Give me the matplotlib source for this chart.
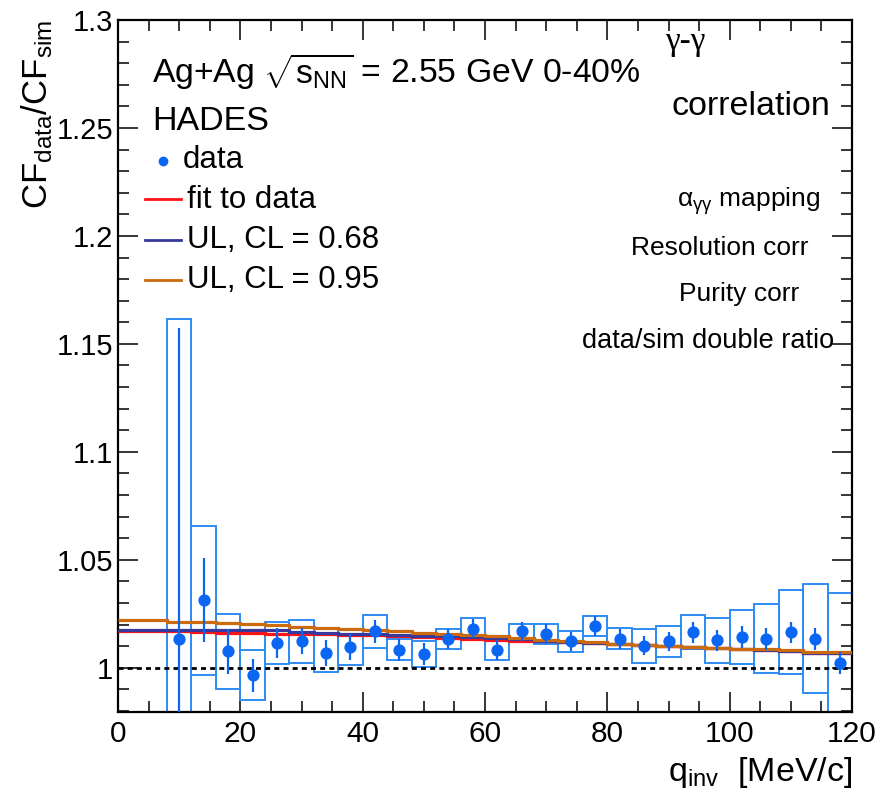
import matplotlib
matplotlib.use("Agg")
import matplotlib.pyplot as plt
import numpy as np
from matplotlib.lines import Line2D
from matplotlib.ticker import MultipleLocator, FuncFormatter

plt.rcParams['font.family'] = ['Liberation Sans', 'DejaVu Sans']
plt.rcParams['mathtext.fontset'] = 'custom'
plt.rcParams['mathtext.rm'] = 'Liberation Sans'
plt.rcParams['mathtext.it'] = 'Liberation Sans:italic'
plt.rcParams['mathtext.sf'] = 'Liberation Sans'

# ---------------- data ----------------
q_inv = [10, 14, 18, 22, 26, 30, 34, 38, 42, 46, 50, 54, 58, 62, 66, 70, 74, 78,
         82, 86, 90, 94, 98, 102, 106, 110, 114, 118]
cf_ratio = [1.0134, 1.0312, 1.0076, 0.9965, 1.0114, 1.0122, 1.0068, 1.0094, 1.0168,
            1.0083, 1.0063, 1.0134, 1.0181, 1.0083, 1.0168, 1.0157, 1.0122, 1.0194,
            1.0134, 1.0102, 1.0122, 1.0164, 1.0127, 1.0142, 1.0134, 1.0164, 1.0134,
            1.0022]
stat_err = [0.144, 0.0194, 0.0103, 0.0077, 0.0068, 0.006, 0.006, 0.006, 0.0054,
            0.005, 0.005, 0.0045, 0.0045, 0.0045, 0.0045, 0.0045, 0.0045, 0.0045,
            0.0045, 0.0045, 0.0045, 0.005, 0.005, 0.005, 0.005, 0.005, 0.005, 0.005]
sys_err = [0.148, 0.0346, 0.0175, 0.0115, 0.0096, 0.0098, 0.0089, 0.0083, 0.0075,
           0.0049, 0.006, 0.0046, 0.0048, 0.0047, 0.0035, 0.0047, 0.0047, 0.0047,
           0.0048, 0.0079, 0.0071, 0.0078, 0.0104, 0.0124, 0.0159, 0.0194, 0.0253,
           0.0324]
bin_width = 4

curve_edges = list(range(0, 124, 4))
fit_data = [1.0168, 1.0168, 1.0168, 1.0164, 1.0160, 1.0160, 1.0158, 1.0156, 1.0155,
            1.0152, 1.0150, 1.0146, 1.0142, 1.0138, 1.0134, 1.0130, 1.0126, 1.0122,
            1.0118, 1.0113, 1.0108, 1.0104, 1.0100, 1.0095, 1.0090, 1.0085, 1.0080,
            1.0076, 1.0070, 1.0066]
ul_068 = [1.0177, 1.0177, 1.0177, 1.0177, 1.0176, 1.0176, 1.0176, 1.0165, 1.0163,
          1.0158, 1.0155, 1.0151, 1.0148, 1.0145, 1.0141, 1.0138, 1.0132, 1.0126,
          1.0121, 1.0115, 1.0110, 1.0105, 1.0100, 1.0095, 1.0090, 1.0085, 1.0080,
          1.0076, 1.0070, 1.0066]
ul_095 = [1.0222, 1.0222, 1.0214, 1.0214, 1.0207, 1.0202, 1.0199, 1.0190, 1.0182,
          1.0178, 1.0174, 1.0168, 1.0162, 1.0156, 1.0150, 1.0145, 1.0138, 1.0130,
          1.0124, 1.0117, 1.0111, 1.0105, 1.0102, 1.0096, 1.0091, 1.0089, 1.0086,
          1.0080, 1.0072, 1.0071]

# ---------------- figure ----------------
W, H = 880, 797
fig = plt.figure(figsize=(W / 100, H / 100), dpi=100)
ax = fig.add_axes([118 / W, (H - 712) / H, 734 / W, 692 / H])

def fx(x):
    return x / W

def fy(y):
    return 1 - y / H

c_pt = '#0a66f2'
c_box = '#2f8cf2'
c_red = '#ff1414'
c_blue = '#37389c'
c_orange = '#cc6a10'

x = np.array(q_inv, dtype=float)
y = np.array(cf_ratio)
s = np.array(sys_err)

ax.bar(x, 2 * s, bottom=y - s, width=bin_width, fill=False,
       edgecolor=c_box, linewidth=1.4, zorder=2)
ax.axhline(1.0, color='black', linestyle=(0, (1.8, 1.5)), linewidth=2.0, zorder=2.5)
ax.stairs(fit_data, curve_edges, baseline=None, color=c_red, linewidth=2.3, zorder=3)
ax.stairs(ul_068, curve_edges, baseline=None, color=c_blue, linewidth=2.3, zorder=3.1)
ax.stairs(ul_095, curve_edges, baseline=None, color=c_orange, linewidth=2.3, zorder=3.2)
ax.errorbar(x, y, yerr=stat_err, fmt='o', color=c_pt, markersize=7.8,
            elinewidth=1.6, capsize=0, zorder=4)

ax.set_xlim(0, 120)
ax.set_ylim(0.9795, 1.3)
ax.xaxis.set_major_locator(MultipleLocator(20))
ax.xaxis.set_minor_locator(MultipleLocator(5))
ax.yaxis.set_major_locator(MultipleLocator(0.05))
ax.yaxis.set_minor_locator(MultipleLocator(0.01))
ax.yaxis.set_major_formatter(FuncFormatter(lambda v, p: '%g' % round(v, 4)))
ax.xaxis.set_major_formatter(FuncFormatter(lambda v, p: '%g' % v))
ax.tick_params(which='both', direction='in', top=True, right=True, width=1.1)
ax.tick_params(which='major', length=14.5)
ax.tick_params(which='minor', length=8)
ax.tick_params(axis='y', which='major', labelsize=21, pad=3.5)
ax.tick_params(axis='x', which='major', labelsize=21.5, pad=6)
for sp in ax.spines.values():
    sp.set_linewidth(1.6)

# axis titles
fig.text(fx(37), fy(20), r'CF$_{\mathrm{data}}$/CF$_{\mathrm{sim}}$', rotation=90,
         ha='center', va='top', fontsize=25)
fig.text(fx(852), fy(781), r'q$_{\mathrm{inv}}$  [MeV/c]', ha='right',
         va='baseline', fontsize=24.5)

# header texts
fig.text(fx(152), fy(83), r'Ag+Ag $\sqrt{\mathrm{s}_{\mathrm{NN}}}$ = 2.55 GeV 0-40%',
         ha='left', va='baseline', fontsize=24.3)
fig.text(fx(152), fy(130), 'HADES', ha='left', va='baseline', fontsize=24.5)
fig.text(fx(665), fy(50), 'γ-γ', ha='left', va='baseline', fontsize=24,
         family=['Liberation Serif', 'DejaVu Serif'])
fig.text(fx(830), fy(115), 'correlation', ha='right', va='baseline', fontsize=24.5)

# right side texts
fig.text(fx(677), fy(207), r'$\mathrm{\alpha_{\gamma\gamma}}$ mapping', ha='left',
         va='baseline', fontsize=19)
fig.text(fx(631), fy(255), 'Resolution corr', ha='left', va='baseline', fontsize=19)
fig.text(fx(679), fy(301), 'Purity corr', ha='left', va='baseline', fontsize=19)
fig.text(fx(582), fy(348), 'data/sim double ratio', ha='left', va='baseline', fontsize=19.5)

# legend
leg_rows = [
    ('data', 161, 168, 'marker', c_pt),
    ('fit to data', 199, 208, 'line', c_red),
    ('UL, CL = 0.68', 240, 248, 'line', c_blue),
    ('UL, CL = 0.95', 280, 288, 'line', c_orange),
]
for label, yl, yb, kind, col in leg_rows:
    if kind == 'marker':
        fig.add_artist(Line2D([fx(163)], [fy(yl)], marker='o', markersize=6,
                              color=col, linestyle='none', transform=fig.transFigure))
        tx = 183
    else:
        fig.add_artist(Line2D([fx(145), fx(181)], [fy(yl), fy(yl)], color=col,
                              linewidth=2, transform=fig.transFigure))
        tx = 187
    fig.text(fx(tx), fy(yb), label, ha='left', va='baseline', fontsize=22.5)

fig.savefig('out.png', dpi=100)
